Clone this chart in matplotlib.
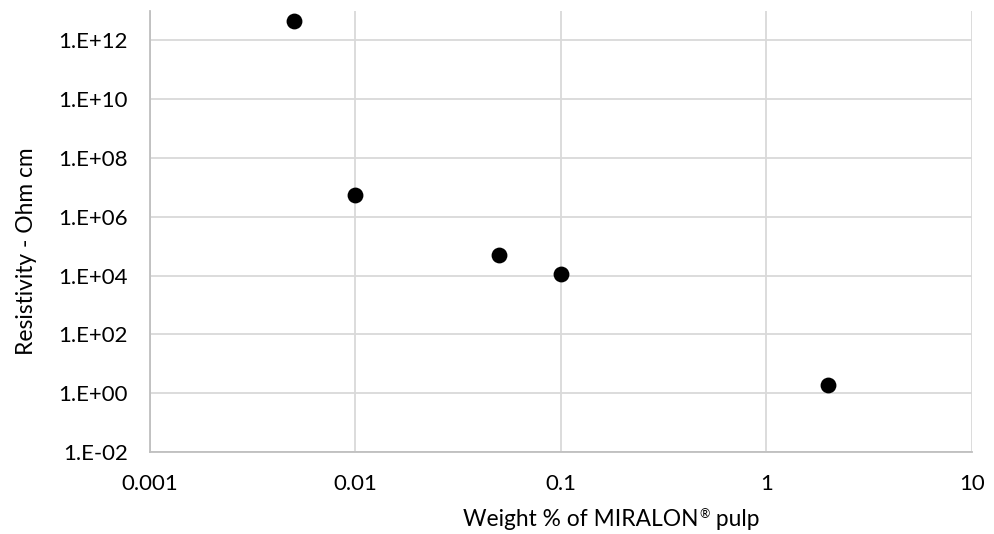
import matplotlib
matplotlib.use("Agg")
import matplotlib.pyplot as plt
from matplotlib.ticker import FixedLocator, NullLocator
from matplotlib.transforms import offset_copy

# data
weight_pct = [0.005, 0.01, 0.05, 0.1, 2.0]
resistivity = [4.4e12, 5.7e6, 5.2e4, 1.13e4, 1.9]

x_ticks = [0.001, 0.01, 0.1, 1, 10]
x_labels = ["0.001", "0.01", "0.1", "1", "10"]
y_ticks = [1e-2, 1e0, 1e2, 1e4, 1e6, 1e8, 1e10, 1e12]
y_labels = ["1.E-02", "1.E+00", "1.E+02", "1.E+04", "1.E+06", "1.E+08", "1.E+10", "1.E+12"]

plt.rcParams["font.family"] = ["Lato", "DejaVu Sans"]

fig = plt.figure(figsize=(9.95, 5.34), dpi=100)
ax = fig.add_axes([150 / 995, 1 - 452 / 534, 822 / 995, 441 / 534])

ax.scatter(weight_pct, resistivity, s=130, color="black", zorder=3, linewidths=0)

ax.set_xscale("log")
ax.set_yscale("log")
ax.set_xlim(0.001, 10)
ax.set_ylim(1e-2, 1e13)

ax.xaxis.set_major_locator(FixedLocator(x_ticks))
ax.xaxis.set_minor_locator(NullLocator())
ax.set_xticklabels(x_labels)
ax.yaxis.set_major_locator(FixedLocator(y_ticks))
ax.yaxis.set_minor_locator(NullLocator())
ax.set_yticklabels(y_labels)

ax.grid(True, color="#d9d9d9", linewidth=1.3)
ax.set_axisbelow(True)
ax.tick_params(axis="both", length=0, labelsize=16, colors="#000000")
ax.tick_params(axis="x", pad=16)
ax.tick_params(axis="y", pad=16)

for side in ["top", "right"]:
    ax.spines[side].set_visible(False)
for side in ["left", "bottom"]:
    ax.spines[side].set_color("#bfbfbf")
    ax.spines[side].set_linewidth(1.3)

# x label in pieces so the registered sign can be small and raised
renderer = fig.canvas.get_renderer()
part1 = fig.text(463 / 995, 1 - 526 / 534, "Weight % of MIRALON", ha="left",
                 va="baseline", fontsize=16.4)
w1 = part1.get_window_extent(renderer).width
reg = fig.text(0, 0, "®", fontsize=9, ha="left", va="baseline",
               transform=offset_copy(part1.get_transform(), fig=fig,
                                     x=w1 * 72 / fig.dpi + 0.5, y=6, units="points"))
reg.set_position(part1.get_position())
w2 = reg.get_window_extent(renderer).width
fig.text(0, 0, " pulp", fontsize=16.4, ha="left", va="baseline",
         transform=offset_copy(part1.get_transform(), fig=fig,
                               x=(w1 + w2) * 72 / fig.dpi + 1, y=0, units="points")
         ).set_position(part1.get_position())

fig.text(27 / 995, 1 - 251 / 534, "Resistivity - Ohm cm",
         ha="center", va="center", rotation=90, fontsize=16.4)

fig.savefig("out.png", dpi=100)
